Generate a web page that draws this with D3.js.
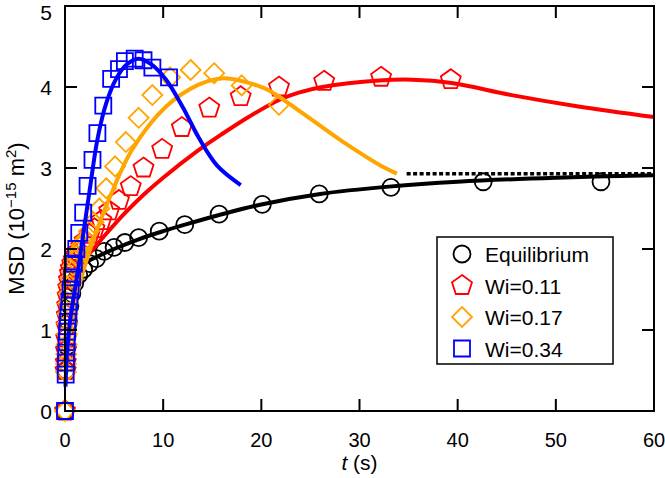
<!DOCTYPE html>
<html>
<head>
<meta charset="utf-8">
<script src="https://cdn.jsdelivr.net/npm/d3@7"></script>
<style>
  body { margin: 0; background: #fff; }
  svg text { font-family: "Liberation Sans", Arial, Helvetica, sans-serif; fill: #000; }
</style>
</head>
<body>
<div id="chart"></div>
<script>
// measured points (t in s, MSD in 1e-15 m^2)
const eqT = [0, 0.1, 0.2, 0.35, 0.5, 0.7, 1.0, 1.4, 1.9, 2.5, 3.2, 4.0, 5.0, 6.1, 7.5, 9.6, 12.2, 15.7, 20.1, 25.9, 33.2, 42.6, 54.6];
const eqMsd = [0, 0.5, 0.8, 1.1, 1.3, 1.45, 1.58, 1.68, 1.75, 1.82, 1.88, 1.97, 2.02, 2.08, 2.14, 2.22, 2.30, 2.43, 2.55, 2.68, 2.76, 2.83, 2.83];

const w11T = [0, 0.06, 0.08, 0.1, 0.12, 0.15, 0.18, 0.22, 0.27, 0.33, 0.4, 0.5, 0.6, 0.74, 0.9, 1.1, 1.35, 1.65, 2.0, 2.5, 3.0, 3.7, 4.5, 5.5, 6.7, 8.0, 9.9, 11.9, 14.7, 17.9, 21.8, 26.4, 32.2, 39.3];
const w11Msd = [0, 0.5, 0.6, 0.75, 0.9, 1.05, 1.18, 1.3, 1.42, 1.52, 1.62, 1.7, 1.76, 1.82, 1.87, 1.92, 1.97, 2.03, 2.1, 2.18, 2.25, 2.35, 2.47, 2.6, 2.77, 3.0, 3.23, 3.5, 3.74, 3.88, 4.0, 4.07, 4.12, 4.09];

const w17T = [0, 0.09, 0.11, 0.13, 0.16, 0.19, 0.23, 0.27, 0.33, 0.4, 0.47, 0.57, 0.68, 0.82, 1.0, 1.2, 1.4, 1.7, 2.05, 2.45, 2.9, 3.5, 4.2, 5.1, 6.2, 7.5, 8.9, 10.7, 12.8, 15.2, 18.0, 21.8];
const w17Msd = [0, 0.48, 0.58, 0.7, 0.82, 0.95, 1.08, 1.2, 1.33, 1.45, 1.55, 1.64, 1.72, 1.8, 1.86, 1.92, 1.98, 2.05, 2.12, 2.22, 2.33, 2.5, 2.75, 3.02, 3.32, 3.62, 3.9, 4.12, 4.21, 4.17, 4.02, 3.78];

const w34T = [0, 0.07, 0.1, 0.13, 0.17, 0.22, 0.28, 0.35, 0.45, 0.57, 0.72, 0.9, 1.15, 1.45, 1.85, 2.3, 2.8, 3.3, 3.9, 4.7, 5.5, 6.1, 7.1, 8.0, 8.9, 10.6];
const w34Msd = [0, 0.45, 0.6, 0.72, 0.85, 0.98, 1.1, 1.22, 1.35, 1.5, 1.65, 1.82, 2.0, 2.2, 2.45, 2.78, 3.1, 3.43, 3.77, 4.1, 4.22, 4.32, 4.35, 4.33, 4.24, 4.12];

// fitted curves
const eqFitT = [0.05, 0.3, 0.7, 1.2, 2, 3, 5, 7.5, 10, 12.2, 15.7, 20, 26, 33, 40, 50, 60];
const eqFitMsd = [1.5, 1.63, 1.7, 1.76, 1.83, 1.89, 2.0, 2.12, 2.22, 2.3, 2.42, 2.55, 2.68, 2.77, 2.83, 2.88, 2.91];
const plateauT = [34.8, 60];
const plateauMsd = [2.93, 2.93];

const w11FitT = [0.3, 1, 1.8, 2.6, 4, 6, 8, 10, 13.6, 16, 18.7, 21.8, 23.8, 26.2, 32, 35.4, 39.4, 45.5, 52.3, 60];
const w11FitMsd = [1.55, 1.74, 1.86, 1.96, 2.16, 2.43, 2.67, 2.88, 3.22, 3.42, 3.63, 3.84, 3.93, 4.0, 4.08, 4.09, 4.05, 3.9, 3.76, 3.63];

const w17FitT = [0.3, 0.9, 1.9, 3, 4.5, 6.8, 10.3, 13.6, 15.5, 17, 20.4, 21.8, 25.2, 28.6, 32, 33.8];
const w17FitMsd = [0.75, 1.28, 1.74, 2.15, 2.62, 3.22, 3.76, 4.03, 4.1, 4.1, 3.98, 3.88, 3.59, 3.3, 3.04, 2.93];

const w34FitT = [0.05, 0.2, 0.5, 0.9, 1.4, 2.0, 2.6, 3.3, 4.2, 5.2, 6.3, 7.5, 8.8, 10.3, 12, 13.6, 15.5, 17.9];
const w34FitMsd = [0.3, 0.7, 1.1, 1.42, 1.8, 2.3, 2.8, 3.35, 3.8, 4.1, 4.28, 4.35, 4.28, 4.09, 3.75, 3.38, 3.03, 2.79];

const seriesNames = ['Equilibrium', 'Wi=0.11', 'Wi=0.17', 'Wi=0.34'];
const xTicks = [0, 10, 20, 30, 40, 50, 60];
const yTicks = [0, 1, 2, 3, 4, 5];

const width = 665, height = 478;
const margin = { top: 6, right: 11, bottom: 67, left: 65 };

const x = d3.scaleLinear().domain([0, 60]).range([margin.left, width - margin.right]);
const y = d3.scaleLinear().domain([0, 5]).range([height - margin.bottom, margin.top]);

const svg = d3.select('#chart').append('svg')
  .attr('width', width)
  .attr('height', height);

const zip = (ts, vs) => ts.map((t, i) => [t, vs[i]]);

// marker shapes
function pentagon(r) {
  const pts = d3.range(5).map(i => {
    const a = -Math.PI / 2 + i * 2 * Math.PI / 5;
    return [r * Math.cos(a), r * Math.sin(a)];
  });
  return 'M' + pts.map(p => p.join(',')).join('L') + 'Z';
}
function markerPath(kind) {
  if (kind === 'circle') {
    const p = d3.path(); p.arc(0, 0, 8.5, 0, 2 * Math.PI); p.closePath(); return p.toString();
  }
  if (kind === 'pentagon') return pentagon(10.5);
  if (kind === 'diamond') return 'M0,-10L10,0L0,10L-10,0Z';
  return 'M-8,-8H8V8H-8Z';
}

const series = [
  { name: seriesNames[0], color: '#000', kind: 'circle', pts: zip(eqT, eqMsd), fit: zip(eqFitT, eqFitMsd) },
  { name: seriesNames[1], color: '#ff0000', kind: 'pentagon', pts: zip(w11T, w11Msd), fit: zip(w11FitT, w11FitMsd) },
  { name: seriesNames[2], color: '#ffa500', kind: 'diamond', pts: zip(w17T, w17Msd), fit: zip(w17FitT, w17FitMsd) },
  { name: seriesNames[3], color: '#0000ff', kind: 'square', pts: zip(w34T, w34Msd), fit: zip(w34FitT, w34FitMsd) },
];

const line = d3.line()
  .x(d => x(d[0]))
  .y(d => y(d[1]))
  .curve(d3.curveCatmullRom.alpha(0.5));

series.forEach(s => {
  const g = svg.append('g');
  g.selectAll('path.m')
    .data(s.pts)
    .enter()
    .append('path')
    .attr('class', 'm')
    .attr('d', markerPath(s.kind))
    .attr('transform', d => `translate(${x(d[0])},${y(d[1])})`)
    .style('fill', 'none')
    .style('stroke', s.color)
    .style('stroke-width', 1.8);
  g.append('path')
    .attr('d', line(s.fit))
    .style('fill', 'none')
    .style('stroke', s.color)
    .style('stroke-width', 4);
});

// dotted plateau
svg.append('path')
  .attr('d', line(zip(plateauT, plateauMsd)))
  .style('stroke', '#000')
  .style('stroke-width', 3.5)
  .style('stroke-dasharray', '4,2.5');

// frame + ticks (inward)
const tickLen = 12;
const ax = svg.append('g');
ax.append('rect')
  .attr('x', x(0)).attr('y', y(5))
  .attr('width', x(60) - x(0)).attr('height', y(0) - y(5))
  .style('fill', 'none').style('stroke', '#000').style('stroke-width', 2);

xTicks.slice(1, -1).forEach(t => {
  ax.append('line').attr('x1', x(t)).attr('x2', x(t)).attr('y1', y(0)).attr('y2', y(0) - tickLen)
    .style('stroke', '#000').style('stroke-width', 2);
  ax.append('line').attr('x1', x(t)).attr('x2', x(t)).attr('y1', y(5)).attr('y2', y(5) + tickLen)
    .style('stroke', '#000').style('stroke-width', 2);
});
yTicks.slice(1, -1).forEach(v => {
  ax.append('line').attr('x1', x(0)).attr('x2', x(0) + tickLen).attr('y1', y(v)).attr('y2', y(v))
    .style('stroke', '#000').style('stroke-width', 2);
  ax.append('line').attr('x1', x(60)).attr('x2', x(60) - tickLen).attr('y1', y(v)).attr('y2', y(v))
    .style('stroke', '#000').style('stroke-width', 2);
});

ax.selectAll('text.xt')
  .data(xTicks)
  .enter()
  .append('text')
  .attr('x', d => x(d))
  .attr('y', y(0) + 36)
  .attr('text-anchor', 'middle')
  .style('font-size', '20px')
  .text(d => d);

// top label nudged down so it stays inside the picture
ax.selectAll('text.yt')
  .data(yTicks)
  .enter()
  .append('text')
  .attr('x', x(0) - 13)
  .attr('y', d => Math.max(y(d) + 7.5, 20))
  .attr('text-anchor', 'end')
  .style('font-size', '21px')
  .text(d => d);

// axis titles
const xl = svg.append('text')
  .attr('x', (x(0) + x(60)) / 2)
  .attr('y', 470)
  .attr('text-anchor', 'middle')
  .style('font-size', '21px');
xl.append('tspan').style('font-style', 'italic').text('t');
xl.append('tspan').text(' (s)');

const yl = svg.append('text')
  .attr('transform', `translate(24,${(y(0) + y(5)) / 2 + 10}) rotate(-90)`)
  .attr('text-anchor', 'middle')
  .style('font-size', '22px');
yl.append('tspan').text('MSD (10');
yl.append('tspan').attr('dy', -8).style('font-size', '15px').text('\u221215');
yl.append('tspan').attr('dy', 8).text(' m');
yl.append('tspan').attr('dy', -8).style('font-size', '15px').text('2');
yl.append('tspan').attr('dy', 8).text(')');

// legend
const lg = svg.append('g').attr('transform', 'translate(437,237)');
lg.append('rect')
  .attr('width', 176).attr('height', 127)
  .style('fill', '#fff').style('stroke', '#000').style('stroke-width', 1.5);
series.forEach((s, i) => {
  const row = lg.append('g').attr('transform', `translate(25,${17 + i * 31.5})`);
  row.append('path')
    .attr('d', markerPath(s.kind))
    .style('fill', 'none').style('stroke', s.color).style('stroke-width', 1.8);
  row.append('text')
    .attr('x', 23).attr('y', 8)
    .style('font-size', '21px')
    .text(s.name);
});
</script>
</body>
</html>
